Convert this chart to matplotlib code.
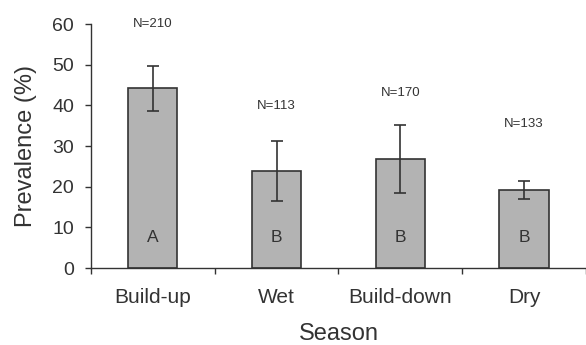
import matplotlib
matplotlib.use('Agg')
import matplotlib.pyplot as plt
import numpy as np

plt.rcParams['font.family'] = ['Liberation Sans', 'DejaVu Sans']

# data
seasons = ['Build-up', 'Wet', 'Build-down', 'Dry']
prevalence = [44.2, 23.8, 26.9, 19.1]
err = [5.5, 7.4, 8.4, 2.2]
sample_n = ['N=210', 'N=113', 'N=170', 'N=133']
n_label_y = [60, 39.8, 43, 35.4]
groups = ['A', 'B', 'B', 'B']

fig = plt.figure(figsize=(5.86, 3.45), dpi=100)
ax = fig.add_axes([0.155, 0.223, 0.845, 0.707])

x = np.arange(len(seasons))
ink = '#333333'
ax.bar(x, prevalence, width=0.4, color='#b3b3b3', edgecolor=ink, linewidth=1.2)
ax.errorbar(x, prevalence, yerr=err, fmt='none', ecolor=ink, elinewidth=1.2,
            capsize=4, capthick=1.2)

for i in range(len(seasons)):
    ax.text(x[i], n_label_y[i], sample_n[i], ha='center', va='center',
            fontsize=9.5, color=ink)
    ax.text(x[i], 7.4, groups[i], ha='center', va='center', fontsize=12.5, color=ink)

ax.set_xlim(-0.5, len(seasons) - 0.5)
ax.set_ylim(0, 60)
ax.set_yticks(np.arange(0, 61, 10))
ax.set_xticks(x)
ax.set_xticklabels(seasons, fontsize=15, color=ink)
ax.set_xticks(np.arange(-0.5, len(seasons), 1), minor=True)
ax.tick_params(axis='x', which='major', length=0, pad=14)
ax.tick_params(axis='x', which='minor', length=4, width=1, color=ink)
ax.tick_params(axis='y', labelsize=14, length=4, width=1, color=ink,
               labelcolor=ink, pad=8)

for s in ['top', 'right']:
    ax.spines[s].set_visible(False)
for s in ['left', 'bottom']:
    ax.spines[s].set_color(ink)
    ax.spines[s].set_linewidth(1.0)

ax.set_ylabel('Prevalence (%)', fontsize=17, color=ink, labelpad=11)
ax.set_xlabel('Season', fontsize=17, color=ink, labelpad=12)

fig.savefig('out.png', dpi=100)
